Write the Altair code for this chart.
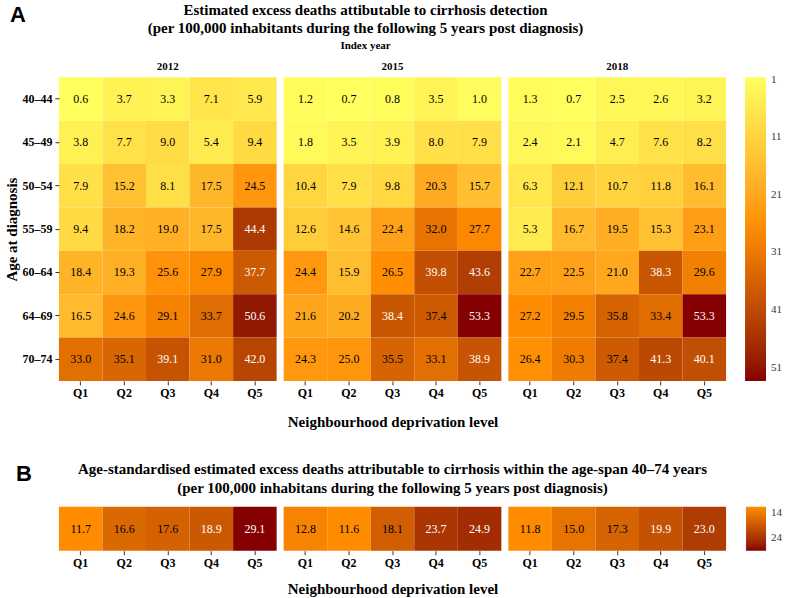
import altair as alt
import pandas as pd

# ---- data -------------------------------------------------------------
years = ["2012", "2015", "2018"]
quintiles = ["Q1", "Q2", "Q3", "Q4", "Q5"]
age_groups = ["40–44", "45–49", "50–54", "55–59", "60–64", "64–69", "70–74"]

# excess deaths per 100,000 by age group (rows) and deprivation quintile (cols)
excess_2012 = [
    [0.6, 3.7, 3.3, 7.1, 5.9],
    [3.8, 7.7, 9.0, 5.4, 9.4],
    [7.9, 15.2, 8.1, 17.5, 24.5],
    [9.4, 18.2, 19.0, 17.5, 44.4],
    [18.4, 19.3, 25.6, 27.9, 37.7],
    [16.5, 24.6, 29.1, 33.7, 50.6],
    [33.0, 35.1, 39.1, 31.0, 42.0],
]
excess_2015 = [
    [1.2, 0.7, 0.8, 3.5, 1.0],
    [1.8, 3.5, 3.9, 8.0, 7.9],
    [10.4, 7.9, 9.8, 20.3, 15.7],
    [12.6, 14.6, 22.4, 32.0, 27.7],
    [24.4, 15.9, 26.5, 39.8, 43.6],
    [21.6, 20.2, 38.4, 37.4, 53.3],
    [24.3, 25.0, 35.5, 33.1, 38.9],
]
excess_2018 = [
    [1.3, 0.7, 2.5, 2.6, 3.2],
    [2.4, 2.1, 4.7, 7.6, 8.2],
    [6.3, 12.1, 10.7, 11.8, 16.1],
    [5.3, 16.7, 19.5, 15.3, 23.1],
    [22.7, 22.5, 21.0, 38.3, 29.6],
    [27.2, 29.5, 35.8, 33.4, 53.3],
    [26.4, 30.3, 37.4, 41.3, 40.1],
]

# age-standardised excess deaths (40–74) by quintile
std_2012 = [11.7, 16.6, 17.6, 18.9, 29.1]
std_2015 = [12.8, 11.6, 18.1, 23.7, 24.9]
std_2018 = [11.8, 15.0, 17.3, 19.9, 23.0]

legend_ticks_a = [1, 11, 21, 31, 41, 51]
legend_ticks_b = [14, 24]

SERIF = "Liberation Serif"
SANS = "Liberation Sans"

# ---- tables -------------------------------------------------------------
age_tables = {}
for year, grid in zip(years, [excess_2012, excess_2015, excess_2018]):
    age_tables[year] = pd.DataFrame(
        [
            {"age": age, "quintile": q, "deaths": v}
            for age, row in zip(age_groups, grid)
            for q, v in zip(quintiles, row)
        ]
    )

std_tables = {
    year: pd.DataFrame({"quintile": quintiles, "deaths": vals, "row": "all"})
    for year, vals in zip(years, [std_2012, std_2015, std_2018])
}

all_a = [v for g in [excess_2012, excess_2015, excess_2018] for r in g for v in r]
all_b = std_2012 + std_2015 + std_2018
a_lo, a_hi = min(all_a), max(all_a)
b_lo, b_hi = min(all_b), max(all_b)

# colour is driven by the negated value so that the vertical colourbar
# runs from the smallest value at the top to the largest at the bottom
scale_a = alt.Scale(
    domain=[-a_hi, -(a_lo + a_hi) / 2, -a_lo],
    range=["#850000", "#FF8C00", "#FFFF5E"],
    interpolate="lab",
)
scale_b = alt.Scale(
    domain=[-b_hi, -b_lo],
    range=["#850000", "#FF8C00"],
    interpolate="lab",
)

X_TITLE = "Neighbourhood deprivation level"


def x_axis(show_title, title_pad):
    kw = dict(
        labelAngle=0,
        labelFont=SERIF,
        labelFontWeight="bold",
        labelFontSize=12,
        labelColor="black",
        labelPadding=3,
        tickSize=4,
        tickColor="#333333",
        domain=False,
        titleFont=SERIF,
        titleFontWeight="bold",
        titleFontSize=15,
        titleColor="black",
        titlePadding=title_pad,
    )
    if show_title:
        return alt.Axis(title=X_TITLE, **kw)
    return alt.Axis(title=None, **kw)


def legend(ticks, length, thickness, offset):
    return alt.Legend(
        title=None,
        values=[-t for t in ticks],
        labelExpr="format(-datum.value, 'd')",
        gradientLength=length,
        gradientThickness=thickness,
        labelFont=SERIF,
        labelFontSize=11,
        labelColor="#333333",
        labelOffset=5,
        offset=offset,
    )


def age_panel(i, year):
    df = age_tables[year]
    if i == 0:
        y_axis = alt.Axis(
            title="Age at diagnosis",
            labelFont=SERIF,
            labelFontWeight="bold",
            labelFontSize=12,
            labelColor="black",
            labelPadding=3,
            tickSize=4,
            tickColor="#333333",
            domain=False,
            titleFont=SERIF,
            titleFontWeight="bold",
            titleFontSize=15,
            titleColor="black",
            titlePadding=2,
        )
    else:
        y_axis = None
    x_enc = alt.X("quintile:N", sort=quintiles, axis=x_axis(i == 1, 16))
    y_enc = alt.Y("age:N", sort=age_groups, axis=y_axis)
    base = alt.Chart(df).transform_calculate(neg="-datum.deaths")
    cells = base.mark_rect().encode(
        x=x_enc,
        y=y_enc,
        color=alt.Color("neg:Q", scale=scale_a, legend=legend(legend_ticks_a, 304, 21, 19)),
    )
    labels = base.mark_text(font=SERIF, fontSize=12).encode(
        x=x_enc,
        y=y_enc,
        text=alt.Text("deaths:Q", format=".1f"),
        color=alt.condition("datum.deaths > 37.5", alt.value("white"), alt.value("black")),
    )
    return alt.layer(cells, labels).properties(
        width=218,
        height=304,
        title=alt.TitleParams(
            year, font=SERIF, fontWeight="bold", fontSize=11, offset=5, frame="group"
        ),
    )


def std_panel(i, year):
    df = std_tables[year]
    x_enc = alt.X("quintile:N", sort=quintiles, axis=x_axis(i == 1, 13))
    y_enc = alt.Y("row:N", axis=None)
    base = alt.Chart(df).transform_calculate(neg="-datum.deaths")
    cells = base.mark_rect().encode(
        x=x_enc,
        y=y_enc,
        color=alt.Color("neg:Q", scale=scale_b, legend=legend(legend_ticks_b, 44, 20, 20)),
    )
    labels = base.mark_text(font=SERIF, fontSize=12).encode(
        x=x_enc,
        y=y_enc,
        text=alt.Text("deaths:Q", format=".1f"),
        color=alt.condition("datum.deaths > 18.5", alt.value("white"), alt.value("black")),
    )
    return alt.layer(cells, labels).properties(width=218, height=44)


def tagged(section, letter, dx, offset):
    # wrap a section so that its panel letter sits at the top-left corner
    return alt.vconcat(section).properties(
        title=alt.TitleParams(
            letter,
            font=SANS,
            fontWeight="bold",
            fontSize=22,
            anchor="start",
            dx=dx,
            offset=offset,
        )
    )


section_a = alt.hconcat(*[age_panel(i, y) for i, y in enumerate(years)], spacing=7).properties(
    title=alt.TitleParams(
        [
            "Estimated excess deaths attibutable to cirrhosis detection",
            "(per 100,000 inhabitants during the following 5 years post diagnosis)",
        ],
        subtitle="Index year",
        font=SERIF,
        fontWeight="bold",
        fontSize=15,
        lineHeight=18,
        subtitleFont=SERIF,
        subtitleFontWeight="bold",
        subtitleFontSize=11,
        subtitleColor="black",
        subtitlePadding=4,
        anchor="middle",
        offset=10,
    )
)

section_b = alt.hconcat(*[std_panel(i, y) for i, y in enumerate(years)], spacing=7).properties(
    title=alt.TitleParams(
        [
            "Age-standardised estimated excess deaths attributable to cirrhosis within the age-span 40–74 years",
            "(per 100,000 inhabitans during the following 5 years post diagnosis)",
        ],
        font=SERIF,
        fontWeight="bold",
        fontSize=15,
        lineHeight=19,
        anchor="middle",
        offset=11,
    )
)

chart = (
    alt.vconcat(
        tagged(section_a, "A", 5, -24),
        tagged(section_b, "B", -43, -24),
        spacing=32,
    )
    .resolve_scale(color="independent")
    .properties(padding={"left": 5, "top": 3, "right": 3, "bottom": 3}, background="white")
    .configure_view(stroke=None)
    .configure_title(color="black")
)

chart.save("out.html", embed_options={"renderer": "svg", "actions": False})
